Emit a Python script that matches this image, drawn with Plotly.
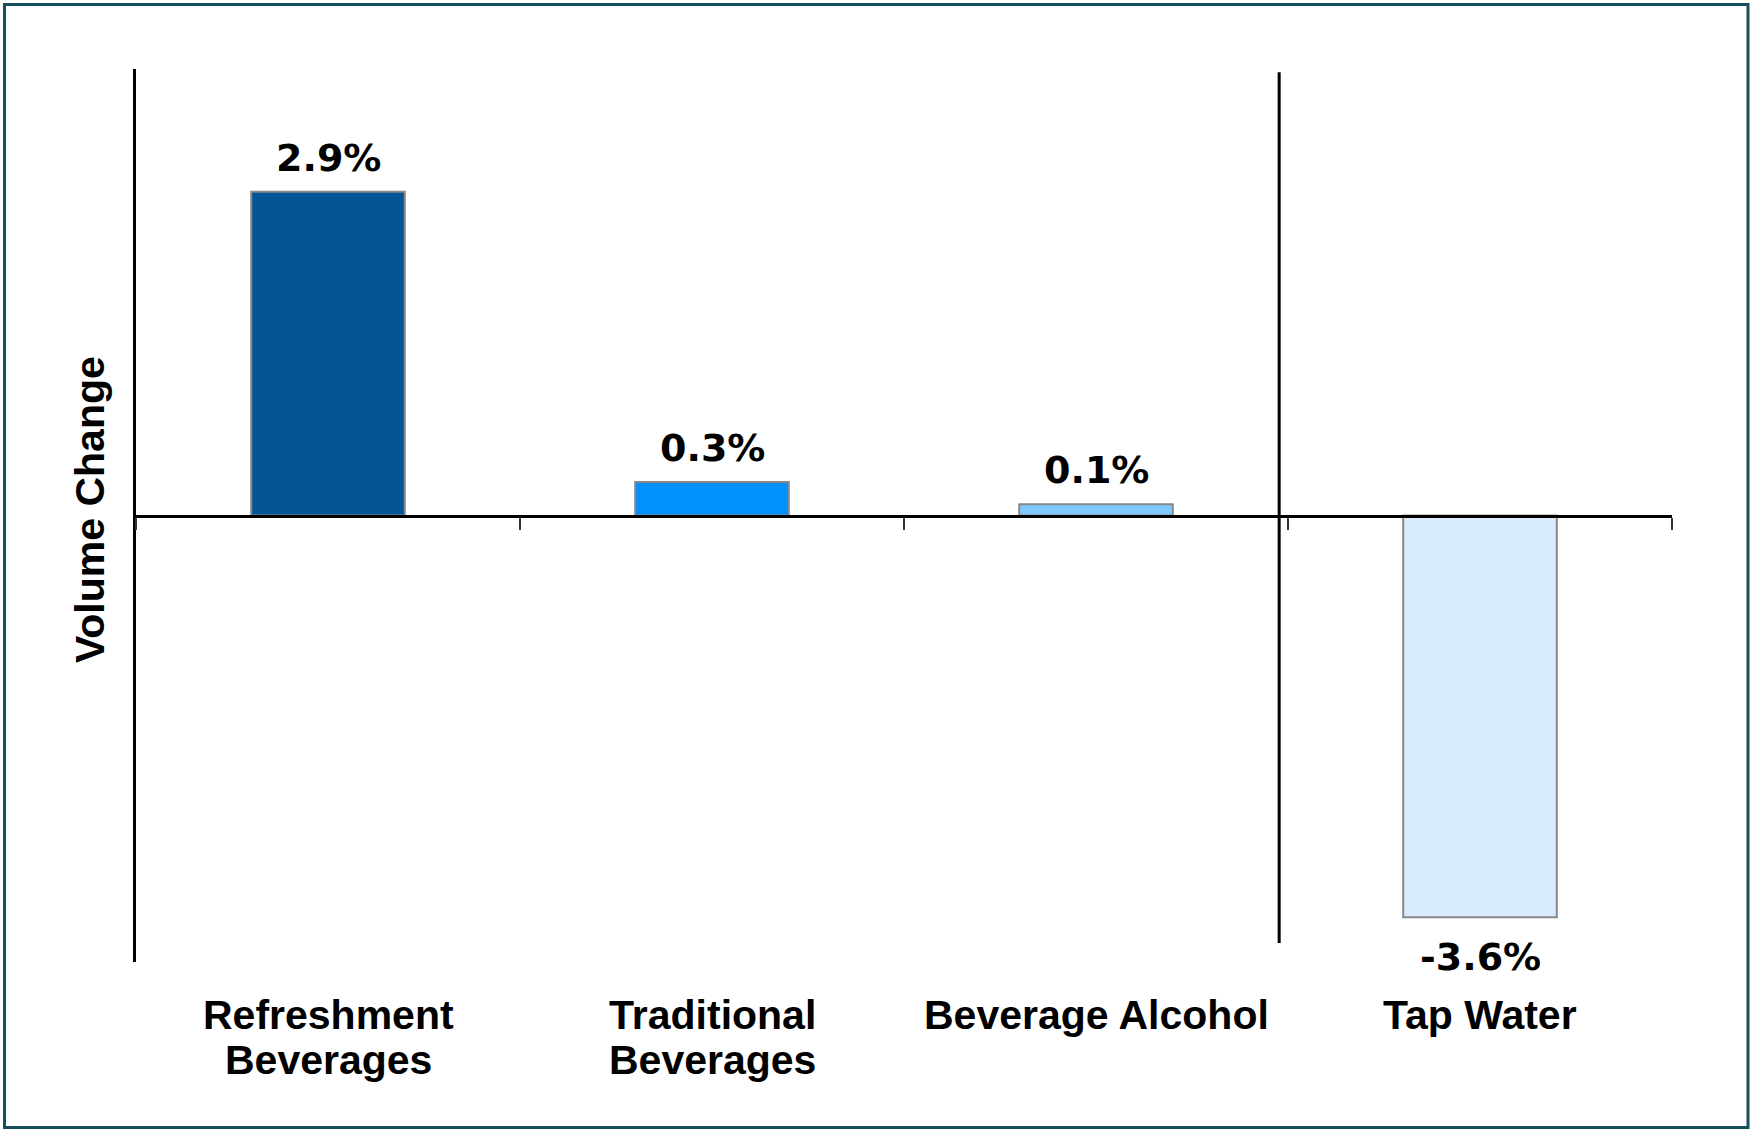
import plotly.graph_objects as go

# Volume change by beverage segment (percent)
categories = ["Refreshment Beverages", "Traditional Beverages", "Beverage Alcohol", "Tap Water"]
label_lines = [["Refreshment", "Beverages"], ["Traditional", "Beverages"], ["Beverage Alcohol"], ["Tap Water"]]
values = [2.9, 0.3, 0.1, -3.6]
bar_colors = ["#035596", "#0191FF", "#7FC7FF", "#D9ECFD"]

W, H = 1753, 1136
M_L, M_R, M_T, M_B = 136, 81, 69, 174
PW = W - M_L - M_R
PH = H - M_T - M_B


def px_x(px):
    """Horizontal pixel position -> paper fraction."""
    return (px - M_L) / PW


def px_y(py):
    """Vertical pixel position (from top) -> paper fraction."""
    return (H - M_B - py) / PH


fig = go.Figure()
fig.add_trace(go.Bar(
    x=categories,
    y=values,
    width=0.4,
    marker=dict(color=bar_colors, line=dict(color="#888888", width=2)),
    hoverinfo="skip",
))

annotations = []
# value labels above / below each bar
for cat, v in zip(categories, values):
    annotations.append(dict(
        x=cat, y=v, xref="x", yref="y",
        text=f"<b>{v:.1f}%</b>",
        showarrow=False,
        xanchor="center",
        yanchor="bottom" if v >= 0 else "top",
        yshift=10 if v >= 0 else -16,
        font=dict(family="DejaVu Sans", size=38, color="#000000"),
    ))

# category labels beneath the plot
line_gap = 45
for cat, lines in zip(categories, label_lines):
    for i, line in enumerate(lines):
        annotations.append(dict(
            x=cat, y=px_y(990 + i * line_gap), xref="x", yref="paper",
            text=f"<b>{line}</b>",
            showarrow=False,
            xanchor="center", yanchor="top",
            font=dict(family="Liberation Sans, Arial, sans-serif", size=41, color="#000000"),
        ))

# y-axis title
annotations.append(dict(
    x=px_x(90), y=px_y(510), xref="paper", yref="paper",
    text="<b>Volume Change</b>",
    textangle=-90,
    showarrow=False,
    xanchor="center", yanchor="middle",
    font=dict(family="Liberation Sans, Arial, sans-serif", size=41, color="#000000"),
))

shapes = [
    # divider between beverage groups and tap water
    dict(type="line", xref="x", yref="y", x0=2.477, x1=2.477, y0=-3.83, y1=3.97,
         line=dict(color="#000000", width=3)),
    # outer frame
    dict(type="rect", xref="paper", yref="paper",
         x0=px_x(4.5), x1=px_x(1748), y0=px_y(1127.5), y1=px_y(4.5),
         line=dict(color="#16505F", width=3), fillcolor="rgba(0,0,0,0)", layer="above"),
]

fig.update_layout(
    width=W, height=H,
    margin=dict(l=M_L, r=M_R, t=M_T, b=M_B, pad=0),
    paper_bgcolor="#FFFFFF",
    plot_bgcolor="#FFFFFF",
    showlegend=False,
    annotations=annotations,
    shapes=shapes,
    xaxis=dict(
        type="category",
        categoryorder="array", categoryarray=categories,
        range=[-0.5, 3.5],
        anchor="free", position=0.5,
        showline=True, linecolor="#000000", linewidth=3,
        ticks="outside", tickson="boundaries", ticklen=12, tickwidth=2, tickcolor="#333333",
        showticklabels=False, showgrid=False, zeroline=False,
    ),
    yaxis=dict(
        range=[-4, 4],
        showline=True, linecolor="#000000", linewidth=3,
        ticks="", showticklabels=False, showgrid=False, zeroline=False,
    ),
)

fig.write_html("out.html")
